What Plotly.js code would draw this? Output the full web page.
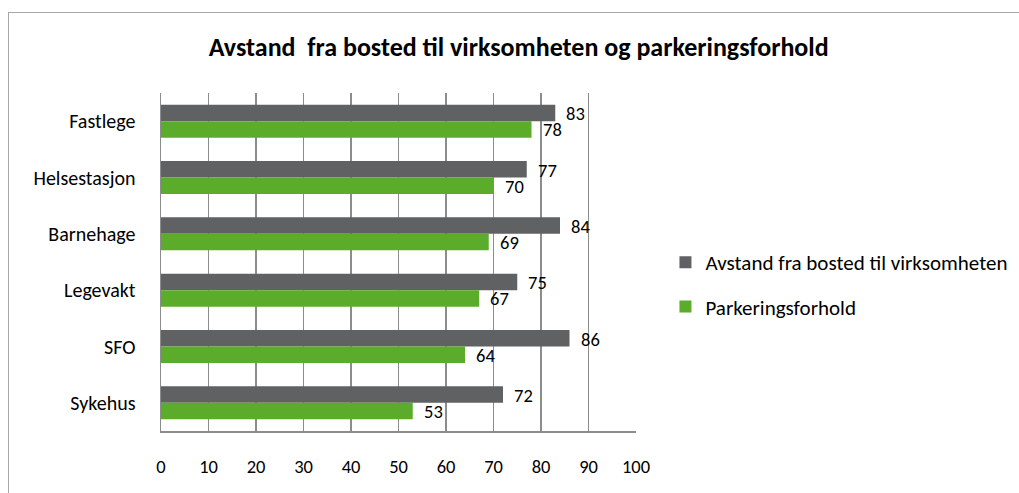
<!DOCTYPE html>
<html>
<head>
<meta charset="utf-8">
<script src="https://cdn.plot.ly/plotly-3.0.1.min.js"></script>
<style>
html,body{margin:0;padding:0;background:#fff;overflow:hidden;}
#frame{position:absolute;left:8px;top:12px;width:1100px;height:600px;border-left:1.5px solid #a8a8a8;border-top:1.5px solid #a8a8a8;}
#chart{position:absolute;left:0;top:0;width:1019px;height:493px;}
</style>
</head>
<body>
<div id="frame"></div>
<div id="chart"></div>
<script>
const categories = ["Fastlege", "Helsestasjon", "Barnehage", "Legevakt", "SFO", "Sykehus"];
const seriesNames = ["Avstand fra bosted til virksomheten", "Parkeringsforhold"];
const avstand = [83, 77, 84, 75, 86, 72];
const parkering = [78, 70, 69, 67, 64, 53];
const xTicks = [0, 10, 20, 30, 40, 50, 60, 70, 80, 90, 100];

const FONT = "Carlito, Lato, 'Open Sans', sans-serif";
const GRAY = "#606163";
const GREEN = "#5bac2a";

const traces = [
  {type: "bar", orientation: "h", name: seriesNames[0], x: avstand, y: categories,
   marker: {color: GRAY}, legendgroup: "a", hoverinfo: "x"},
  {type: "bar", orientation: "h", name: seriesNames[1], x: parkering, y: categories,
   marker: {color: GREEN}, legendgroup: "b", hoverinfo: "x"}
];

const annotations = [];
categories.forEach((c, i) => {
  annotations.push({x: avstand[i], y: c, text: String(avstand[i]), showarrow: false,
    xanchor: "left", yanchor: "middle", xshift: 9, yshift: 7.5,
    font: {family: FONT, size: 18.5, color: "#000"}});
  annotations.push({x: parkering[i], y: c, text: String(parkering[i]), showarrow: false,
    xanchor: "left", yanchor: "middle", xshift: 9, yshift: -8.5,
    font: {family: FONT, size: 18.5, color: "#000"}});
});

const layout = {
  width: 1019, height: 493,
  paper_bgcolor: "rgba(0,0,0,0)", plot_bgcolor: "rgba(0,0,0,0)",
  margin: {l: 161, r: 383, t: 93, b: 62, autoexpand: false},
  font: {family: FONT, size: 18, color: "#000"},
  title: {text: "<b>Avstand  fra bosted til virksomheten og parkeringsforhold</b>",
    font: {family: FONT, size: 26, color: "#000"},
    x: 0.509, xref: "container", y: 0.905, yref: "container", xanchor: "center", yanchor: "middle"},
  barmode: "group", bargap: 0.415, bargroupgap: 0,
  xaxis: {range: [0, 100], tickvals: xTicks, ticktext: xTicks.map(String),
    showgrid: true, gridcolor: "#8c8c8c", gridwidth: 1.5,
    showline: true, linecolor: "#8c8c8c", linewidth: 1.5,
    zeroline: false, ticks: "", ticklabelstandoff: 18,
    tickfont: {family: FONT, size: 18.5, color: "#000"}, fixedrange: true},
  yaxis: {type: "category", autorange: "reversed", showgrid: false,
    showline: true, linecolor: "#8c8c8c", linewidth: 1.5,
    ticks: "", ticklabelstandoff: 20,
    tickfont: {family: FONT, size: 20, color: "#000"}, fixedrange: true},
  showlegend: true,
  legend: {x: 1.062, xanchor: "left", y: 0.433, yanchor: "middle",
    traceorder: "grouped", tracegroupgap: 14, itemwidth: 30,
    font: {family: FONT, size: 21, color: "#000"}, bgcolor: "rgba(0,0,0,0)"},
  annotations: annotations
};

Plotly.newPlot("chart", traces, layout, {displayModeBar: false, staticPlot: true});
</script>
</body>
</html>
